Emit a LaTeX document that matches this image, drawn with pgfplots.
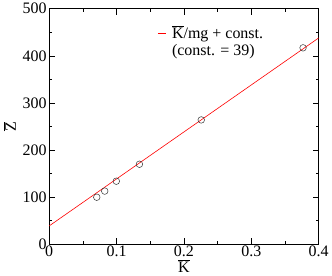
\documentclass[border=0pt]{standalone}
\usepackage{pgfplots}
\pgfplotsset{compat=1.18}
\usepackage{fontspec}
\setmainfont{Liberation Serif}
\begin{document}
\begin{tikzpicture}
\begin{axis}[
  scale only axis,
  width=270pt, height=236pt,
  xmin=0, xmax=0.4, ymin=0, ymax=500,
  xtick={0,0.1,0.2,0.3,0.4},
  xticklabels={0,0.1,0.2,0.3,0.4},
  ytick={0,100,200,300,400,500},
  minor x tick num=1, minor y tick num=1,
  tick align=inside,
  tick pos=both,
  major tick length=6pt, minor tick length=3pt,
  every tick/.style={black, line width=0.6pt},
  axis line style={line width=0.8pt},
  tick label style={font=\fontsize{16}{18}\selectfont},
  xticklabel style={yshift=2pt},
  yticklabel style={xshift=1pt},
  /pgf/number format/assume math mode=true,
  xlabel={$\overline{\mbox{K}}$},
  ylabel={$\overline{\mbox{Z}}$},
  label style={font=\fontsize{16}{18}\selectfont},
  xlabel style={yshift=4pt},
  ylabel style={yshift=0pt},
  legend style={draw=none, fill=none, at={(0.39,0.945)}, anchor=north west,
    font=\fontsize{16}{17}\selectfont},
  legend cell align=left,
  legend image code/.code={\draw[#1] (0pt,0pt) -- (8pt,0pt);},
  legend style={nodes={inner xsep=3pt}},
]
\addplot[red, line width=0.6pt] coordinates {(0,39) (0.4,438)};
\addlegendentry{\hspace{3pt}\begin{tabular}[t]{@{}l@{}}$\overline{\mbox{K}}$/mg + const.\\(const. = 39)\end{tabular}}
\addplot[only marks, mark=o, mark size=3.3pt, draw=black!80, mark options={line width=0.5pt}, forget plot] coordinates {
  (0.0707,100) (0.0825,113) (0.0997,134) (0.134,170) (0.2257,264) (0.3768,417)
};
\end{axis}
\end{tikzpicture}
\end{document}
